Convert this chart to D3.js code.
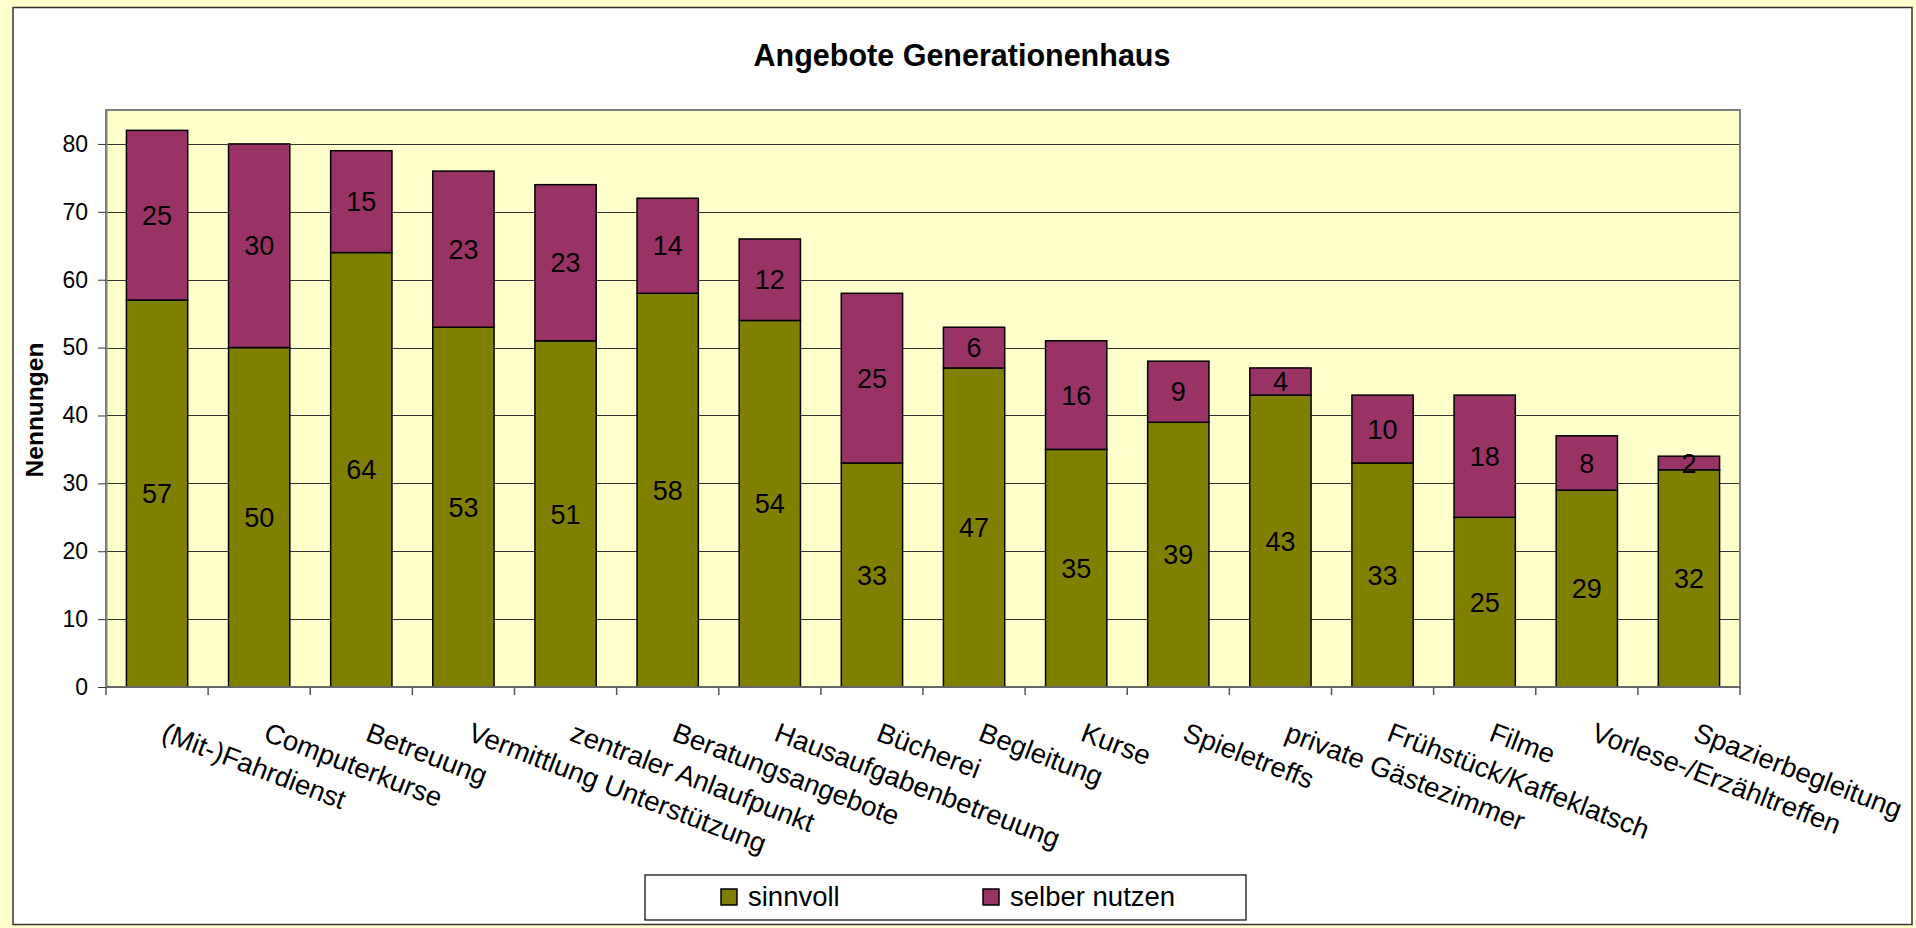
<!DOCTYPE html>
<html>
<head>
<meta charset="utf-8">
<script src="https://cdn.jsdelivr.net/npm/d3@7"></script>
<style>
  html, body { margin: 0; padding: 0; background: #FFFFCC; }
  svg { display: block; font-family: "Liberation Sans", Arial, sans-serif; }
</style>
</head>
<body>
<svg id="chart" width="1916" height="928"></svg>
<script>
// ---- data ----
const categories = ["(Mit-)Fahrdienst", "Computerkurse", "Betreuung", "Vermittlung Unterstützung",
  "zentraler Anlaufpunkt", "Beratungsangebote", "Hausaufgabenbetreuung", "Bücherei", "Begleitung",
  "Kurse", "Spieletreffs", "private Gästezimmer", "Frühstück/Kaffeklatsch", "Filme",
  "Vorlese-/Erzähltreffen", "Spazierbegleitung"];
const sinnvoll = [57, 50, 64, 53, 51, 58, 54, 33, 47, 35, 39, 43, 33, 25, 29, 32];
const selberNutzen = [25, 30, 15, 23, 23, 14, 12, 25, 6, 16, 9, 4, 10, 18, 8, 2];
const seriesNames = ["sinnvoll", "selber nutzen"];
const yTicks = [0, 10, 20, 30, 40, 50, 60, 70, 80];
const titleText = "Angebote Generationenhaus";
const yTitle = "Nennungen";

// ---- layout / style ----
const colors = ["#808000", "#993366"];
const plot = { left: 106, right: 1740, top: 110, bottom: 687 };

const svg = d3.select("#chart");

// white chart panel
svg.append("rect").attr("x", 13).attr("y", 7.5).attr("width", 1899).attr("height", 917)
  .attr("fill", "#fff").attr("stroke", "#333").attr("stroke-width", 1.5);

// title
svg.append("text").attr("x", 962).attr("y", 66).attr("text-anchor", "middle")
  .attr("font-size", 30.5).attr("font-weight", "bold").attr("fill", "#000").text(titleText);

// scales
const x = d3.scaleBand().domain(categories).range([plot.left, plot.right])
  .paddingInner(0.4).paddingOuter(0.2);
const y = d3.scaleLinear().domain([0, 85]).range([plot.bottom, plot.top]);

// plot area
svg.append("rect").attr("x", plot.left).attr("y", plot.top)
  .attr("width", plot.right - plot.left).attr("height", plot.bottom - plot.top)
  .attr("fill", "#FFFFCC");

// gridlines
svg.append("g").selectAll("line").data(yTicks.filter(d => d > 0)).join("line")
  .attr("x1", plot.left).attr("x2", plot.right)
  .attr("y1", d => Math.round(y(d)) + 0.5).attr("y2", d => Math.round(y(d)) + 0.5)
  .attr("stroke", "#333").attr("stroke-width", 1);

// plot border
svg.append("rect").attr("x", plot.left).attr("y", plot.top)
  .attr("width", plot.right - plot.left).attr("height", plot.bottom - plot.top)
  .attr("fill", "none").attr("stroke", "#808080").attr("stroke-width", 2);

// stacked data
const rows = categories.map((c, i) => ({ cat: c, sinnvoll: sinnvoll[i], selber: selberNutzen[i] }));
const stack = d3.stack().keys(["sinnvoll", "selber"])(rows);

const layers = svg.append("g").selectAll("g").data(stack).join("g")
  .attr("fill", (d, i) => colors[i]);
layers.selectAll("rect").data(d => d).join("rect")
  .attr("x", d => x(d.data.cat))
  .attr("width", x.bandwidth())
  .attr("y", d => y(d[1]))
  .attr("height", d => y(d[0]) - y(d[1]))
  .attr("stroke", "#000").attr("stroke-width", 1.5);

// value labels
const labels = svg.append("g").attr("font-size", 27).attr("fill", "#000").attr("text-anchor", "middle");
stack.forEach(layer => {
  labels.selectAll(null).data(layer).join("text")
    .attr("x", d => x(d.data.cat) + x.bandwidth() / 2)
    .attr("y", d => y((d[0] + d[1]) / 2))
    .attr("dy", "0.36em")
    .text(d => d[1] - d[0]);
});

// y axis
const yAxis = d3.axisLeft(y).tickValues(yTicks).tickSize(8).tickPadding(10).tickSizeOuter(0);
const gy = svg.append("g").attr("transform", `translate(${plot.left},0)`).call(yAxis);
gy.select(".domain").attr("stroke", "#808080").attr("stroke-width", 2);
gy.selectAll(".tick line").attr("stroke", "#333");
gy.selectAll(".tick text").attr("font-size", 23).attr("fill", "#000")
  .attr("font-family", "Liberation Sans, Arial, sans-serif");

// x axis line and boundary ticks
svg.append("line").attr("x1", plot.left).attr("x2", plot.right)
  .attr("y1", plot.bottom).attr("y2", plot.bottom).attr("stroke", "#666").attr("stroke-width", 2);
const boundaries = d3.range(categories.length + 1);
svg.append("g").selectAll("line").data(boundaries).join("line")
  .attr("x1", i => plot.left + i * x.step()).attr("x2", i => plot.left + i * x.step())
  .attr("y1", plot.bottom).attr("y2", plot.bottom + 8)
  .attr("stroke", "#555").attr("stroke-width", 1.5);

// x labels, rotated
svg.append("g").selectAll("text").data(categories).join("text")
  .attr("transform", d => `translate(${x(d) + x.bandwidth() / 2 + 3},740) rotate(21)`)
  .attr("font-size", 27.5).attr("fill", "#000").attr("text-anchor", "start")
  .text(d => d);

// y title
svg.append("text").attr("transform", "translate(43,410) rotate(-90)")
  .attr("text-anchor", "middle").attr("font-size", 24.5).attr("font-weight", "bold")
  .attr("fill", "#000").text(yTitle);

// legend
const lg = svg.append("g");
lg.append("rect").attr("x", 645).attr("y", 875).attr("width", 601).attr("height", 45)
  .attr("fill", "#fff").attr("stroke", "#000").attr("stroke-width", 1.2);
const legendX = [721, 983];
seriesNames.forEach((name, i) => {
  lg.append("rect").attr("x", legendX[i]).attr("y", 889).attr("width", 16).attr("height", 16)
    .attr("fill", colors[i]).attr("stroke", "#000").attr("stroke-width", 1.5);
  lg.append("text").attr("x", legendX[i] + 27).attr("y", 906).attr("font-size", 27.5)
    .attr("fill", "#000").text(name);
});
</script>
</body>
</html>
